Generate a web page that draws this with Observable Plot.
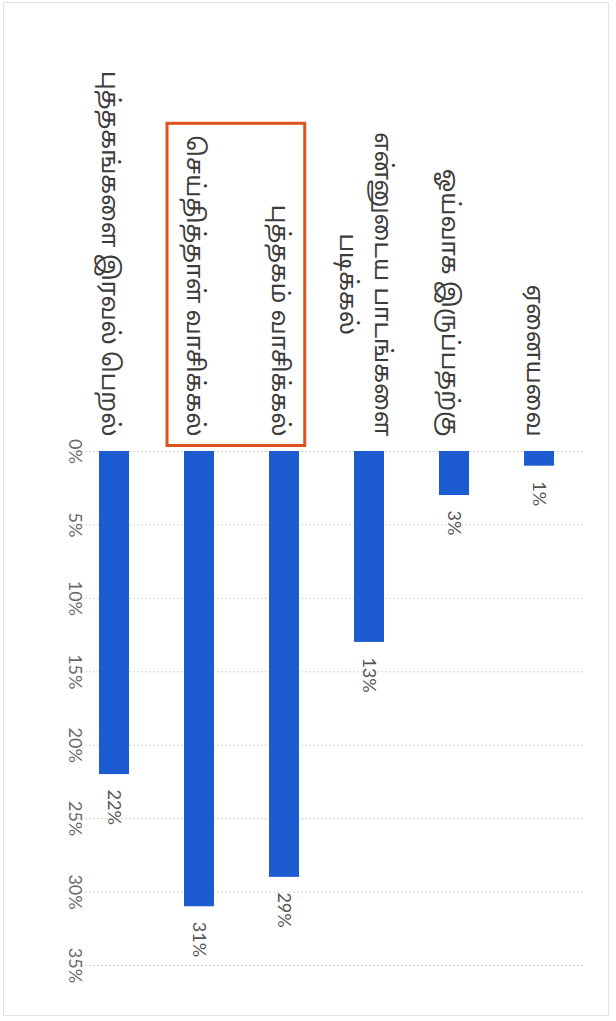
<!DOCTYPE html>
<html><head><meta charset="utf-8">
<script src="https://cdn.jsdelivr.net/npm/d3@7"></script>
<script src="https://cdn.jsdelivr.net/npm/@observablehq/plot@0.6"></script>
<style>
html,body{margin:0;padding:0;background:#fff;width:616px;height:1021px;overflow:hidden;}
#border{position:absolute;left:3px;top:2px;width:606px;height:1014px;border:1px solid #e2e2e2;box-sizing:border-box;}
#chart{position:absolute;left:0;top:0;width:1021px;height:616px;transform-origin:0 0;}
</style></head><body>
<div id="border"></div>
<div id="chart"></div>
<script>
// Data (original orientation: horizontal bar chart, later rotated 90° clockwise)
const categories = [
  "ஏனையவை",
  "ஓய்வாக இருப்பதற்கு",
  "என்னுடைய பாடங்களை\nபடிக்கல்",
  "புத்தகம் வாசிக்கல்",
  "செய்தித்தாள் வாசிக்கல்",
  "புத்தகங்களை இரவல் பெறல்"
];
const values = [1, 3, 13, 29, 31, 22];
const tickValues = [0, 5, 10, 15, 20, 25, 30, 35];
const tickLabels = ["0%", "5%", "10%", "15%", "20%", "25%", "30%", "35%"];
const highlighted = ["புத்தகம் வாசிக்கல்", "செய்தித்தாள் வாசிக்கல்"];

const data = categories.map((c, i) => ({category: c, value: values[i]}));
const tamilFont = "'Noto Sans Tamil', 'Latha', 'Lohit Tamil', 'Noto Sans', sans-serif";
const latinFont = "Lato, 'Noto Sans', sans-serif";

const svg = Plot.plot({
  width: 1021,
  height: 616,
  marginLeft: 451,
  marginRight: 56,
  marginTop: 33,
  marginBottom: 71,
  style: {background: "transparent", fontFamily: latinFont, fontSize: "18px", color: "#444"},
  x: {domain: [0, 35], label: null},
  y: {domain: categories, paddingInner: 0.65, paddingOuter: 0.325, label: null},
  marks: [
    Plot.ruleX(tickValues, {stroke: "#d4d4d4", strokeDasharray: "2,2", strokeWidth: 1}),
    Plot.barX(data, {x: "value", y: "category", fill: "#1c5bd0"}),
    Plot.text(data, {x: "value", y: "category", text: d => d.value + "%", textAnchor: "start", dx: 15, fontSize: 18, fill: "#555", fontFamily: latinFont}),
    Plot.axisX({anchor: "bottom", ticks: tickValues, tickSize: 0, tickPadding: 0, lineAnchor: "middle", dy: -4, tickFormat: d => tickLabels[tickValues.indexOf(d)], fontSize: 18, fill: "#6a6a6a", fontFamily: latinFont}),
    Plot.axisY({anchor: "left", tickSize: 0, tickPadding: 15, fontSize: 24, lineHeight: 1.45, fill: "#3c3c3c", fontFamily: tamilFont})
  ]
});

const holder = document.getElementById("chart");
holder.appendChild(svg);

// center the wrapped lines of multi-line category labels (as in the original)
svg.querySelectorAll("text").forEach(t => {
  const spans = t.querySelectorAll("tspan");
  if (spans.length > 1) {
    let maxLen = 0;
    spans.forEach(s => { maxLen = Math.max(maxLen, s.getComputedTextLength()); });
    const x0 = +(t.getAttribute("x") || 0);
    spans.forEach(s => { s.setAttribute("x", x0 - maxLen / 2); s.setAttribute("text-anchor", "middle"); });
    t.setAttribute("text-anchor", "middle");
  }
});

// highlight box around the two highlighted category labels (measured before rotation)
const svgRect = svg.getBoundingClientRect();
const boxes = [];
svg.querySelectorAll("text").forEach(t => {
  if (highlighted.includes(t.textContent)) {
    const r = t.getBoundingClientRect();
    boxes.push({l: r.left - svgRect.left, r: r.right - svgRect.left, cy: (r.top + r.bottom) / 2 - svgRect.top});
  }
});
if (boxes.length === 2) {
  boxes.sort((a, b) => a.cy - b.cy);
  const step = boxes[1].cy - boxes[0].cy;
  const left = Math.min(...boxes.map(b => b.l)) - 12;
  const right = Math.max(...boxes.map(b => b.r)) + 9;
  const top = boxes[0].cy - 0.31 * step;
  const bottom = boxes[1].cy + 0.31 * step;
  const rect = document.createElementNS("http://www.w3.org/2000/svg", "rect");
  rect.setAttribute("x", left); rect.setAttribute("y", top);
  rect.setAttribute("width", right - left); rect.setAttribute("height", bottom - top);
  rect.setAttribute("fill", "none"); rect.setAttribute("stroke", "#e0521d"); rect.setAttribute("stroke-width", 3);
  svg.appendChild(rect);
}

holder.style.transform = "translate(616px,0) rotate(90deg)";
</script>
</body></html>
